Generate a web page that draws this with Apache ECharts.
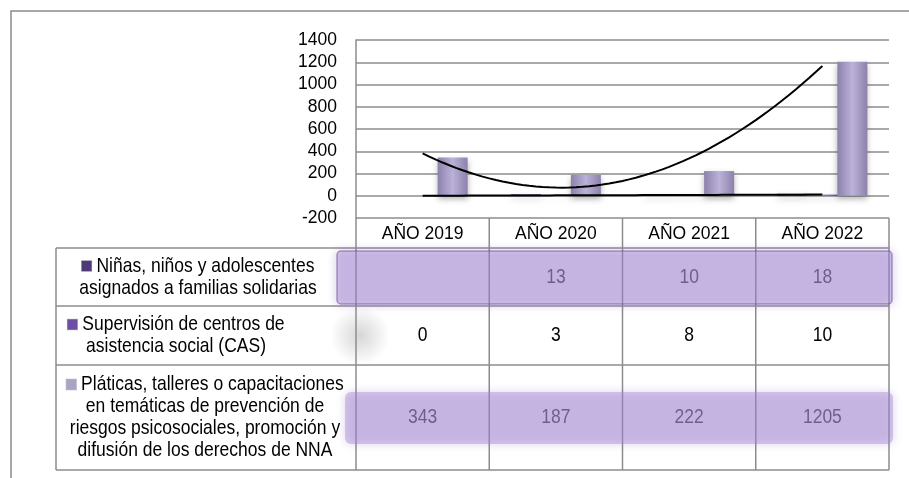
<!DOCTYPE html>
<html>
<head>
<meta charset="utf-8">
<script src="https://cdn.jsdelivr.net/npm/echarts/dist/echarts.min.js"></script>
<style>
  html, body { margin: 0; padding: 0; background: #fff; }
  #chart { width: 909px; height: 478px; }
</style>
</head>
<body>
<div id="chart"></div>
<script>
// datos
var categories = ['AÑO 2019', 'AÑO 2020', 'AÑO 2021', 'AÑO 2022']
var ninas = [null, 13, 10, 18]
var supervision = [0, 3, 8, 10]
var platicas = [343, 187, 222, 1205]
var seriesNames = [
  'Niñas, niños y adolescentes asignados a familias solidarias',
  'Supervisión de centros de asistencia social (CAS)',
  'Pláticas, talleres o capacitaciones en temáticas de prevención de riesgos psicosociales, promoción y difusión de los derechos de NNA'
]
var rowLabels = [
  ['Niñas, niños y adolescentes', 'asignados a familias solidarias'],
  ['Supervisión de centros de', 'asistencia social (CAS)'],
  ['Pláticas, talleres o capacitaciones', 'en temáticas de prevención de', 'riesgos psicosociales, promoción y', 'difusión de los derechos de NNA']
]
var yMin = -200
var yMax = 1400
var yStep = 200

var FONT = "'Liberation Sans', Arial, sans-serif"
var FS = 17.5
var GRID = { left: 356, top: 40, width: 533, height: 178 }
var LINE = '#8c8c8c'

// ajuste de minimos cuadrados (linea de tendencia de Excel)
function polyfit(xs, ys, order) {
  var n = order + 1
  var A = [], b = []
  for (var i = 0; i < n; i++) {
    A.push([])
    b.push(0)
    for (var j = 0; j < n; j++) A[i].push(0)
  }
  xs.forEach(function (x, k) {
    if (ys[k] == null) return
    for (var i = 0; i < n; i++) {
      b[i] += ys[k] * Math.pow(x, i)
      for (var j = 0; j < n; j++) A[i][j] += Math.pow(x, i + j)
    }
  })
  for (var c = 0; c < n; c++) {
    for (var r = c + 1; r < n; r++) {
      var f = A[r][c] / A[c][c]
      for (var j = c; j < n; j++) A[r][j] -= f * A[c][j]
      b[r] -= f * b[c]
    }
  }
  var coef = new Array(n)
  for (var i = n - 1; i >= 0; i--) {
    var s = b[i]
    for (var j = i + 1; j < n; j++) s -= A[i][j] * coef[j]
    coef[i] = s / A[i][i]
  }
  return coef
}

function trendPoints(values, order) {
  var xs = values.map(function (v, i) { return i + 1 })
  var coef = polyfit(xs, values, order)
  var pts = []
  for (var x = 1; x <= values.length + 1e-9; x += 0.05) {
    var y = 0
    for (var i = 0; i < coef.length; i++) y += coef[i] * Math.pow(x, i)
    pts.push([x, y])
  }
  return pts
}

var chartDom = document.getElementById('chart')
var myChart = echarts.init(chartDom)

function barStyle(c1, c2) {
  return {
    color: new echarts.graphic.LinearGradient(0, 0, 1, 0, [
      { offset: 0, color: c1 },
      { offset: 0.5, color: c2 },
      { offset: 1, color: c1 }
    ]),
    shadowBlur: 6,
    shadowOffsetY: 3,
    shadowColor: 'rgba(0,0,0,0.3)'
  }
}

// tabla de datos
var colW = GRID.width / categories.length
var rows = [
  { top: 248, bottom: 306, data: ninas, key: '#4d3878', color: '#3a3a3a', cx: 198 },
  { top: 306, bottom: 365, data: supervision, key: '#6c4ea4', color: '#000', cx: 176 },
  { top: 365, bottom: 470, data: platicas, key: '#aaa3c4', color: '#3a3a3a', cx: 205 }
]
var gfx = []
gfx.push({ type: 'rect', shape: { x: 11, y: 11, width: 930, height: 500 }, style: { fill: 'none', stroke: LINE, lineWidth: 1.5 }, z: 1 })

// sombra difusa del renglon de supervision (va antes de las lineas)
gfx.push({ type: 'rect', shape: { x: 300, y: 306, width: 120, height: 59 },
  style: { fill: new echarts.graphic.RadialGradient(0.5, 0.5, 0.5, [
    { offset: 0, color: 'rgba(0,0,0,0.16)' },
    { offset: 1, color: 'rgba(0,0,0,0)' }
  ]) }, z: 2 })

function hline(x1, x2, y) {
  gfx.push({ type: 'line', shape: { x1: x1, y1: y, x2: x2, y2: y }, style: { stroke: LINE, lineWidth: 1.5 }, z: 5 })
}
function vline(x, y1, y2) {
  gfx.push({ type: 'line', shape: { x1: x, y1: y1, x2: x, y2: y2 }, style: { stroke: LINE, lineWidth: 1.5 }, z: 5 })
}
var tableLeft = 56
var right = GRID.left + GRID.width
var tableBottom = 470
rows.forEach(function (r) { hline(tableLeft, right, r.top) })
hline(tableLeft, right, tableBottom)
vline(tableLeft, 248, tableBottom)
vline(GRID.left, GRID.top + GRID.height, tableBottom)
for (var i = 1; i <= categories.length; i++) vline(GRID.left + i * colW, GRID.top + GRID.height, tableBottom)

rows.forEach(function (r, ri) {
  var lines = rowLabels[ri]
  var lh = 22
  var y0 = (r.top + r.bottom) / 2 - (lines.length * lh) / 2
  lines.forEach(function (t, li) {
    var yy = y0 + li * lh + lh / 2
    gfx.push({
      type: 'text', z: 6,
      x: r.cx, y: yy, scaleY: 1.15,
      style: {
        x: 0, y: 0,
        text: li === 0 ? '{k|} ' + t : t,
        align: 'center', verticalAlign: 'middle',
        font: FS + 'px ' + FONT, fill: '#000',
        rich: {
          k: { width: 10, height: 9, backgroundColor: r.key, borderColor: '#bbb', borderWidth: 0.5 }
        }
      }
    })
  })
  r.data.forEach(function (v, ci) {
    if (v == null) return
    gfx.push({
      type: 'text', z: 6,
      x: GRID.left + (ci + 0.5) * colW, y: (r.top + r.bottom) / 2, scaleY: 1.15,
      style: {
        x: 0, y: 0,
        text: String(v), align: 'center', verticalAlign: 'middle',
        font: FS + 'px ' + FONT, fill: r.color
      }
    })
  })
})

// resplandores morados de los renglones
gfx.push({ type: 'rect', shape: { x: 337, y: 251, width: 555, height: 53, r: 4 },
  style: { fill: 'rgba(165,135,212,0.42)', stroke: 'rgba(110,80,160,0.55)', lineWidth: 1.5, shadowBlur: 10, shadowColor: 'rgba(120,80,180,0.6)' }, z: 8 })
gfx.push({ type: 'rect', shape: { x: 345, y: 392, width: 548, height: 52, r: 6 },
  style: { fill: 'rgba(165,135,212,0.42)', shadowBlur: 10, shadowColor: 'rgba(120,80,180,0.6)' }, z: 8 })

var option = {
  animation: false,
  grid: GRID,
  xAxis: [
    {
      type: 'category',
      data: categories,
      position: 'bottom',
      axisLine: { show: false },
      axisTick: { show: false },
      axisLabel: { color: '#000', fontFamily: FONT, fontSize: FS, margin: 7 }
    },
    { type: 'value', min: 0.5, max: categories.length + 0.5, show: false }
  ],
  yAxis: {
    type: 'value',
    min: yMin,
    max: yMax,
    interval: yStep,
    axisLine: { show: true, lineStyle: { color: LINE, width: 1.5 } },
    axisTick: { show: false },
    axisLabel: { color: '#000', fontFamily: FONT, fontSize: FS, margin: 19, formatter: function (v) { return String(v) } },
    splitLine: { lineStyle: { color: LINE, width: 1.5 } }
  },
  series: [
    { name: seriesNames[0], type: 'bar', data: ninas, barWidth: 30, barGap: '0%', itemStyle: barStyle('#3f2d66', '#6a54a0') },
    { name: seriesNames[1], type: 'bar', data: supervision, barWidth: 30, barGap: '0%', itemStyle: barStyle('#5a3f8c', '#8a6cc0') },
    { name: seriesNames[2], type: 'bar', data: platicas, barWidth: 30, barGap: '0%', itemStyle: barStyle('#8c81ac', '#bbb2d8') },
    {
      type: 'line', xAxisIndex: 1, data: trendPoints(platicas, 2), symbol: 'none',
      lineStyle: { color: '#000', width: 2 }, z: 5
    },
    {
      type: 'line', xAxisIndex: 1, data: trendPoints(supervision, 1), symbol: 'none',
      lineStyle: { color: '#000', width: 2 }, z: 5
    }
  ],
  graphic: gfx
}
myChart.setOption(option)
</script>
</body>
</html>
